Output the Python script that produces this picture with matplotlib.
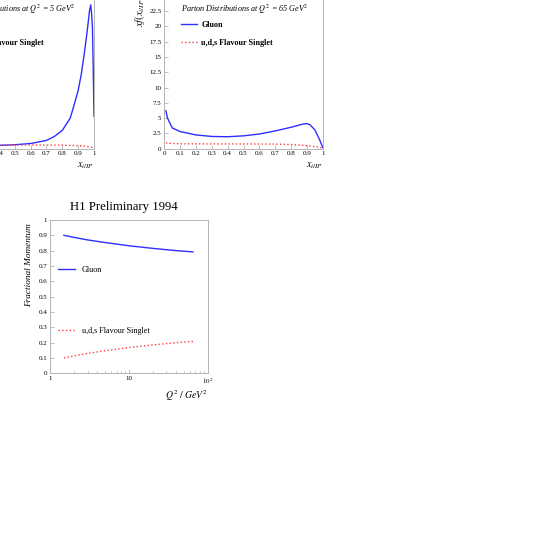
import numpy as np
import matplotlib.pyplot as plt
from matplotlib.ticker import FixedLocator, FuncFormatter, LogLocator, NullFormatter

plt.rcParams['font.family'] = ['Liberation Serif', 'DejaVu Serif']
plt.rcParams['mathtext.fontset'] = 'stix'

# parton distributions at Q^2 = 5 GeV^2 (left panel, mostly cut off)
x_q5 = [0.0, 0.1, 0.2, 0.3, 0.4, 0.5, 0.6, 0.7, 0.75, 0.8, 0.85, 0.875, 0.9,
        0.92, 0.94, 0.955, 0.965, 0.972, 0.979, 0.985, 0.99, 0.995, 1.0]
gluon_q5 = [1.0, 0.6, 0.5, 0.5, 0.55, 0.65, 0.85, 1.35, 2.0, 3.0, 5.0, 7.2, 9.5,
            12.2, 15.8, 18.8, 21.0, 22.6, 23.5, 22.0, 19.9, 13.4, 5.3]
xs_q5 = [0.0, 0.2, 0.4, 0.6, 0.7, 0.8, 0.9, 0.95, 1.0]
singlet_q5 = [0.8, 0.65, 0.6, 0.6, 0.6, 0.58, 0.5, 0.4, 0.15]

# parton distributions at Q^2 = 65 GeV^2 (right panel)
x_q65 = [0.01, 0.02, 0.05, 0.1, 0.2, 0.3, 0.4, 0.5, 0.6, 0.7, 0.8, 0.85,
         0.88, 0.9, 0.92, 0.95, 0.98, 1.0]
gluon_q65 = [6.2, 5.0, 3.4, 2.8, 2.25, 2.0, 1.95, 2.1, 2.4, 2.9, 3.5, 3.85,
             4.05, 4.1, 3.9, 3.1, 1.5, 0.2]
xs_q65 = [0.01, 0.05, 0.1, 0.3, 0.5, 0.7, 0.8, 0.9, 0.95, 1.0]
singlet_q65 = [0.95, 0.85, 0.8, 0.78, 0.78, 0.75, 0.68, 0.5, 0.35, 0.1]

# fractional momentum vs Q^2
q2 = [1.5, 2, 3, 5, 10, 20, 40, 65]
frac_gluon = [0.90, 0.887, 0.870, 0.853, 0.832, 0.815, 0.800, 0.792]
frac_singlet = [0.10, 0.113, 0.130, 0.147, 0.168, 0.185, 0.200, 0.208]

BLUE = '#2f2fff'
RED = '#ff3b3b'
GREY = '#b4b4b4'

fig = plt.figure(figsize=(5.54, 5.54), dpi=100)
W = H = 554.0


def pix_axes(left, top, right, bottom):
    return fig.add_axes([left / W, 1 - bottom / H, (right - left) / W, (bottom - top) / H])


def style(ax):
    for s in ax.spines.values():
        s.set_color(GREY)
        s.set_linewidth(0.7)
    ax.tick_params(which='both', direction='in', color=GREY, width=0.6,
                   labelsize=5.0, pad=2)
    ax.tick_params(which='major', length=3)
    ax.tick_params(which='minor', length=1.8)


def parton_panel(ax, x, g, xs, s, header):
    style(ax)
    ax.plot(x, g, color=BLUE, lw=1.0, label='Gluon')
    ax.plot(xs, s, color=RED, lw=1.0, ls=':', label='u,d,s Flavour Singlet')
    ax.set_xlim(0, 1)
    ax.set_ylim(0, 25)
    ax.xaxis.set_major_locator(FixedLocator(np.arange(0, 1.01, 0.1)))
    ax.yaxis.set_major_locator(FixedLocator(np.arange(0, 25.1, 2.5)))
    ax.xaxis.set_major_formatter(FuncFormatter(lambda v, p: '%g' % round(v, 2)))
    ax.yaxis.set_major_formatter(FuncFormatter(lambda v, p: '%g' % v))
    ax.text(0.1035, 0.913, header, transform=ax.transAxes, ha='left', va='center',
            fontsize=5.9, fontstyle='italic')
    ax.legend(loc='upper left', bbox_to_anchor=(0.1035, 0.837), frameon=False,
              borderpad=0, borderaxespad=0, handlelength=2.0, handletextpad=0.5,
              labelspacing=1.25, prop={'size': 5.9, 'weight': 'bold'})
    ax.text(1.0, -0.078, r'$x_{i/IP}$', transform=ax.transAxes, ha='right', va='top',
            fontsize=7.2)
    ax.text(-0.109, 0.795, r'$xf(x_{i/IP})$', transform=ax.transAxes, rotation=90,
            rotation_mode='anchor', ha='left', va='bottom', fontsize=7.5)


ax1 = pix_axes(-64.4, -4.3, 94.0, 148.7)
parton_panel(ax1, x_q5, gluon_q5, xs_q5, singlet_q5,
             'Parton Distributions at $Q^2$ = 5 GeV$^2$')

ax2 = pix_axes(164.3, -4.3, 322.7, 148.7)
parton_panel(ax2, x_q65, gluon_q65, xs_q65, singlet_q65,
             'Parton Distributions at $Q^2$ = 65 GeV$^2$')

# fractional momentum panel
ax3 = pix_axes(50.0, 220.0, 207.7, 373.3)
style(ax3)
ax3.plot(q2, frac_gluon, color=BLUE, lw=1.0, label='Gluon')
ax3.plot(q2, frac_singlet, color=RED, lw=1.0, ls=':', label='u,d,s Flavour Singlet')
ax3.set_xscale('log')
ax3.set_xlim(1, 100)
ax3.set_ylim(0, 1)
ax3.xaxis.set_major_locator(FixedLocator([1, 10, 100]))
ax3.xaxis.set_major_formatter(FuncFormatter(lambda v, p: {1: '1', 10: '10'}.get(int(round(v)), r'$10^2$')))
ax3.xaxis.set_minor_locator(LogLocator(base=10, subs=np.arange(2, 10)))
ax3.xaxis.set_minor_formatter(NullFormatter())
ax3.yaxis.set_major_locator(FixedLocator(np.arange(0, 1.01, 0.1)))
ax3.yaxis.set_major_formatter(FuncFormatter(lambda v, p: '%g' % round(v, 1)))
ax3.legend(loc='upper left', bbox_to_anchor=(0.05, 0.703), frameon=False,
           borderpad=0, borderaxespad=0, handlelength=2.1, handletextpad=0.85,
           labelspacing=6.5, prop={'size': 5.9})
ax3.text(0.466, 1.087, 'H1 Preliminary 1994', transform=ax3.transAxes,
         ha='center', va='center', fontsize=9.2)
ax3.text(1.0, -0.095, r'$Q^2\ /\ GeV^2$', transform=ax3.transAxes,
         ha='right', va='top', fontsize=7)
ax3.set_ylabel('Fractional Momentum', loc='top', fontstyle='italic', fontsize=6.7)
ax3.yaxis.set_label_coords(-0.105, 0.98)

fig.savefig('out.png', dpi=100)
